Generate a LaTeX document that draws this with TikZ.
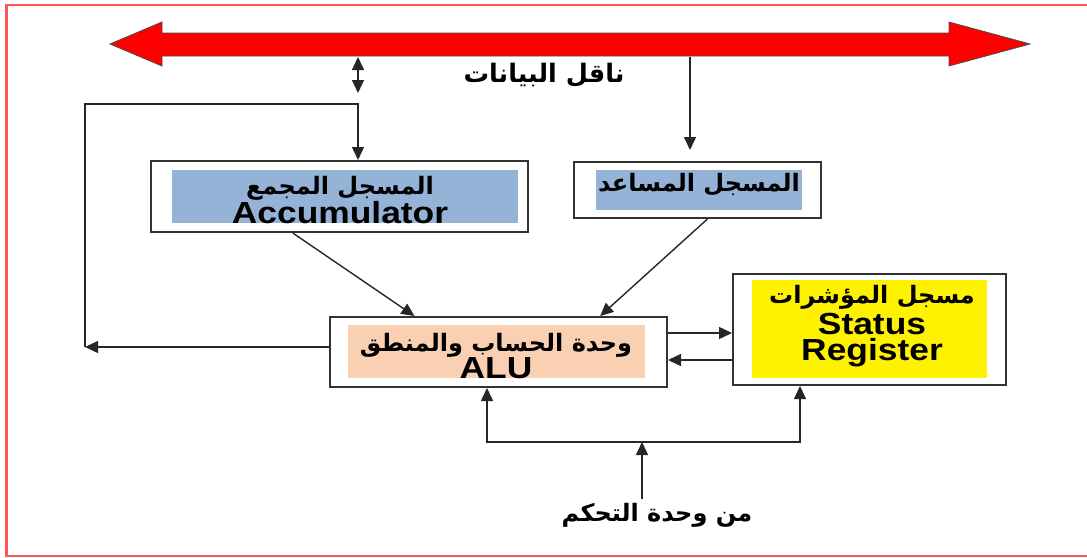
\documentclass[tikz,border=0pt]{standalone}
\usepackage{fontspec}
\usetikzlibrary{arrows.meta,calc}
\TeXXeTstate=1
\newfontfamily\arabicfont[Script=Arabic]{DejaVu Sans}
\newfontfamily\latinfont[FakeStretch=1.16]{Liberation Sans}
\definecolor{accblue}{HTML}{95B3D7}
\definecolor{alupeach}{HTML}{FAD0B2}
\definecolor{busred}{HTML}{FF0000}
\definecolor{framered}{HTML}{FF5555}
\newcommand{\artext}[1]{{\arabicfont\bfseries\fontsize{24}{26}\selectfont\beginR #1\endR}}
\newcommand{\lattext}[1]{{\latinfont\bfseries\fontsize{30.5}{26}\selectfont #1}}
\begin{document}
\begin{tikzpicture}[x=1pt,y=-1pt,
  outerbox/.style={draw=black!80,line width=2pt,fill=white,inner sep=0pt},
  innerbox/.style={inner sep=0pt},
  conn/.style={draw=black!85,line width=1.4pt},
  tip/.style={-{Triangle[length=13pt,width=12pt]}},
  twotips/.style={{Triangle[length=13pt,width=12pt]}-{Triangle[length=13pt,width=12pt]}},
  arlabel/.style={inner sep=0pt,align=center,text=black,font=\fontsize{24}{25}\selectfont}
]
\useasboundingbox (0,0) rectangle (1087,557);
% outer frame
\draw[framered,line width=2.5pt] (1095,5) -- (6.5,5) -- (6.5,556) -- (1095,556);

% data bus
\draw[fill=busred,draw=black!70,line width=0.8pt]
  (110,44) -- (162,22) -- (162,33) -- (949,33) -- (949,22) -- (1030,44)
  -- (949,66) -- (949,56) -- (162,56) -- (162,66) -- cycle;
\coordinate (busacc) at (358,57);
\coordinate (accx) at (358,93);
\coordinate (busaux) at (690,57);
\node[arlabel] (buslbl) at (544,75) {{\arabicfont\bfseries\fontsize{25.5}{26}\selectfont\beginR ناقل البيانات\endR}};

% registers
\node[outerbox,minimum width=377pt,minimum height=71pt] (acc) at (339,196.5) {};
\node[innerbox,fill=accblue,minimum width=346pt,minimum height=53pt] (accin) at (345,196.5) {};
\node[arlabel] (acctxt) at (340,200) {\artext{المسجل المجمع}\\\lattext{Accumulator}};

\node[outerbox,minimum width=247pt,minimum height=56pt] (aux) at (697.5,190) {};
\node[innerbox,fill=accblue,minimum width=206pt,minimum height=40pt] (auxin) at (699,190) {};
\node[arlabel] (auxtxt) at (699,185) {\artext{المسجل المساعد}};

\node[outerbox,minimum width=337pt,minimum height=70pt] (alu) at (498.5,352) {};
\node[innerbox,fill=alupeach,minimum width=297pt,minimum height=53pt] (aluin) at (496.5,351.5) {};
\node[arlabel] (alutxt) at (496,356) {\artext{وحدة الحساب والمنطق}\\\lattext{ALU}};

\node[outerbox,minimum width=273pt,minimum height=111pt] (sr) at (869.5,329.5) {};
\node[innerbox,fill=yellow,minimum width=235pt,minimum height=98pt] (srin) at (869.5,329) {};
\node[arlabel] (srtxt) at (872,326)
  {\artext{مسجل المؤشرات}\\[3pt]\lattext{Status}\\[1pt]\lattext{Register}};

% bus connections
\draw[conn,twotips] (busacc) -- (accx);
\draw[conn,tip,shorten >=11pt] (busaux) -- (aux.north -| busaux);

% feedback from the ALU to the accumulator
\coordinate (fbcorner) at (85,347);
\coordinate (fbtop) at (85,104);
\draw[conn,tip] (alu.west |- fbcorner) -- (fbcorner);
\draw[conn,tip] (fbcorner) -- (fbtop) -| (acc.north -| accx);

% operands into the ALU
\draw[conn,tip] ($(acc.south west)!0.378!(acc.south east)$) -- ($(alu.north west)!0.252!(alu.north east)$);
\draw[conn,tip] ($(aux.south west)!0.54!(aux.south east)$) -- ($(alu.north west)!0.80!(alu.north east)$);

% ALU <-> status register
\draw[conn,tip] ([yshift=19pt]alu.east) -- ([yshift=19pt]alu.east -| sr.west);
\draw[conn,tip] ([yshift=-8pt]alu.east -| sr.west) -- ([yshift=-8pt]alu.east);

% control signals
\coordinate (ctlL) at (487,442);
\coordinate (ctlR) at (800,442);
\coordinate (ctljoin) at (642,442);
\node[arlabel] (ctltxt) at (657,515) {\artext{من وحدة التحكم}};
\draw[conn,twotips] (ctlL |- alu.south) -- (ctlL) -- (ctlR) -- (ctlR |- sr.south);
\draw[conn,tip] (642,499) -- (ctljoin);
\end{tikzpicture}
\end{document}
